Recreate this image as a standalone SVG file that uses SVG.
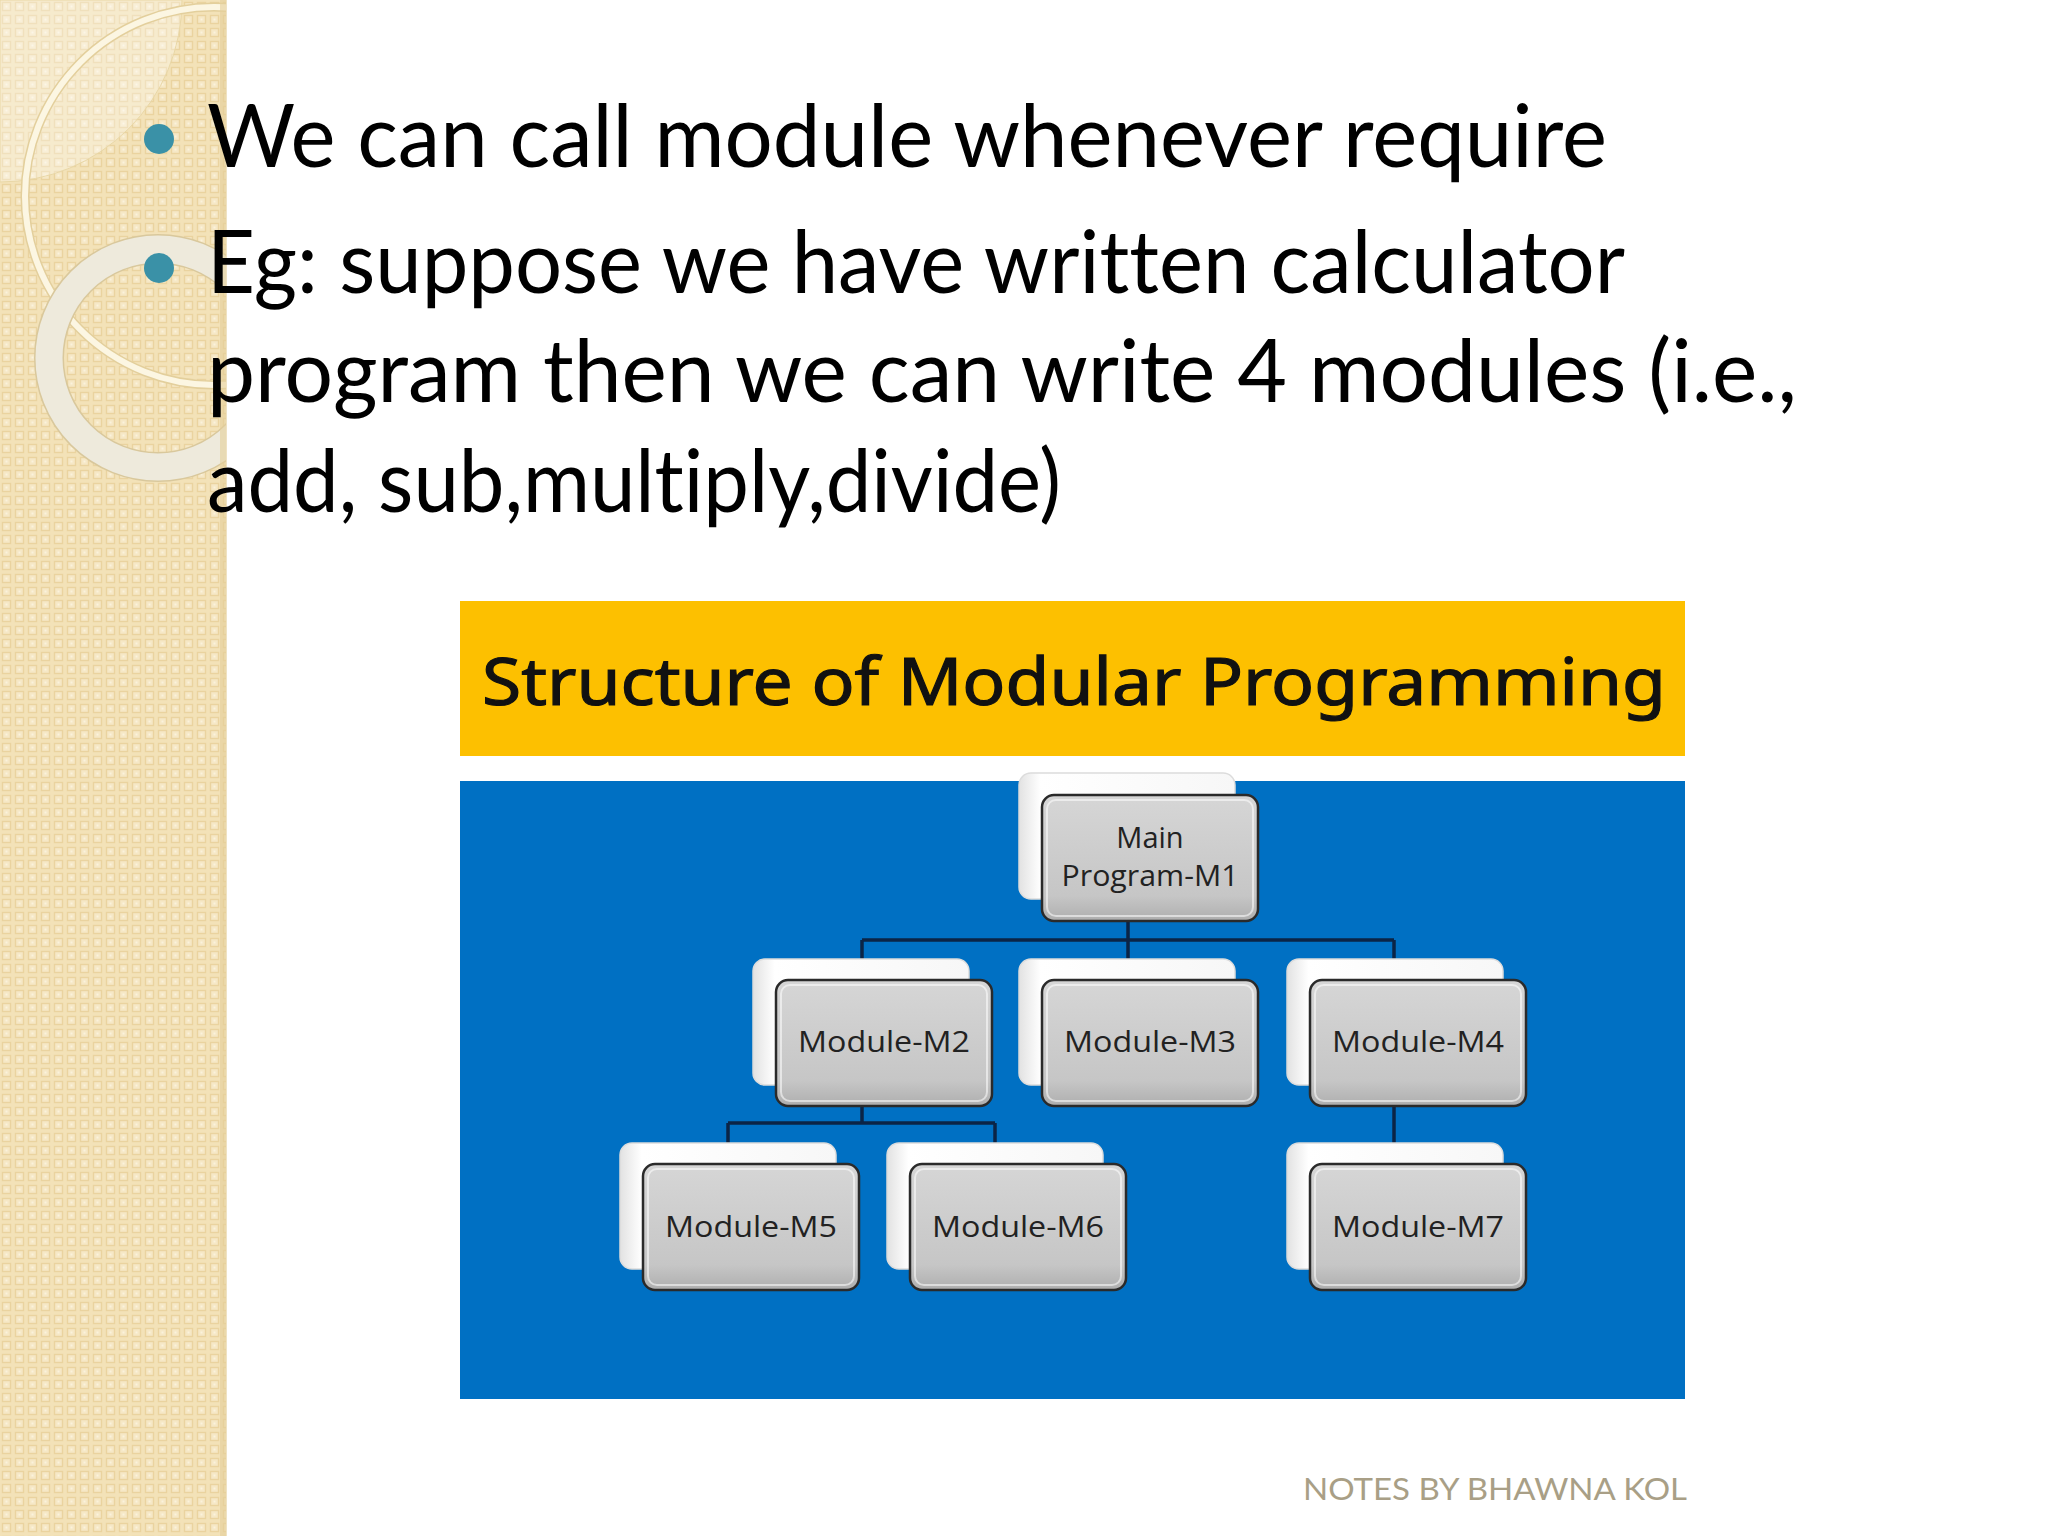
<svg xmlns="http://www.w3.org/2000/svg" width="2048" height="1536" viewBox="0 0 2048 1536">
<defs>
  <pattern id="chk" width="13" height="13" patternUnits="userSpaceOnUse">
    <rect width="13" height="13" fill="#f3e2b8"/>
    <rect x="2.5" y="2.5" width="8" height="8" fill="#f6e8c6" stroke="#ead39f" stroke-width="1.4"/>
    <rect x="5.5" y="5.5" width="2" height="2" fill="#fbf2dc"/>
  </pattern>
  <linearGradient id="gfront" x1="0" y1="0" x2="0" y2="1">
    <stop offset="0" stop-color="#d6d6d6"/>
    <stop offset="0.8" stop-color="#c6c6c6"/>
    <stop offset="1" stop-color="#aeaeae"/>
  </linearGradient>
  <linearGradient id="gback" x1="0" y1="0" x2="1" y2="0">
    <stop offset="0" stop-color="#e2e2e2"/>
    <stop offset="0.1" stop-color="#ffffff"/>
    <stop offset="1" stop-color="#f7f7f7"/>
  </linearGradient>
  <clipPath id="stripeClip"><rect x="0" y="0" width="226" height="1536"/></clipPath>
</defs>
<style>
  text { font-variant-ligatures: none; }
  .body { font-family: Lato, "Open Sans", sans-serif; font-size: 88px; fill: #000; }
  .bullet { fill: #3a91a7; }
  .back { fill: url(#gback); stroke: #dcdcdc; stroke-width: 1.5; }
  .front { fill: url(#gfront); stroke: #2a2a2a; stroke-width: 2.5; }
  .hl { fill: none; stroke: #ffffff; stroke-opacity: 0.55; stroke-width: 2; }
  .lbl { font-family: "Open Sans", "Noto Sans", sans-serif; font-size: 29px; fill: #222; text-anchor: middle; }
  .conn { fill: none; stroke: #0b2446; stroke-width: 3.5; }
</style>

<!-- page background -->
<rect x="0" y="0" width="2048" height="1536" fill="#ffffff"/>

<!-- decorative stripe -->
<g id="stripe">
  <rect x="0" y="0" width="226" height="1536" fill="url(#chk)"/>
  <g clip-path="url(#stripeClip)">
    <path d="M0 0 L182 0 A182 182 0 0 1 0 182 Z" fill="#ffffff" fill-opacity="0.3" stroke="#e9d7a6" stroke-width="1"/>
    <circle cx="214" cy="196" r="189" fill="none" stroke="#e3cf9c" stroke-width="9"/>
    <circle cx="214" cy="196" r="189" fill="none" stroke="#fcf6e2" stroke-width="6"/>
    <circle cx="158" cy="358" r="109" fill="none" stroke="#d9c89c" stroke-width="30"/>
    <circle cx="158" cy="358" r="109" fill="none" stroke="#eeeadc" stroke-width="27"/>
  </g>
  <rect x="220" y="0" width="7" height="1536" fill="#e4cf9a" opacity="0.6"/>
</g>

<!-- bullet text -->
<g id="text">
  <circle class="bullet" cx="159" cy="139" r="15"/>
  <circle class="bullet" cx="159" cy="268" r="15"/>
  <text class="body" x="207" y="167" textLength="1400" lengthAdjust="spacingAndGlyphs">We can call module whenever require</text>
  <text class="body" x="207" y="293" textLength="1418" lengthAdjust="spacingAndGlyphs">Eg: suppose we have written calculator</text>
  <text class="body" x="207" y="402" textLength="1590" lengthAdjust="spacingAndGlyphs">program then we can write 4 modules (i.e.,</text>
  <text class="body" x="207" y="512" textLength="854" lengthAdjust="spacingAndGlyphs">add, sub,multiply,divide)</text>
</g>

<!-- diagram panels -->
<g id="title">
  <rect x="460" y="601" width="1225" height="155" fill="#fdc000"/>
  <text x="482" y="705" font-family="'Noto Sans', 'Open Sans', sans-serif" font-size="66" fill="#111" stroke="#111" stroke-width="1.2" textLength="1184" lengthAdjust="spacingAndGlyphs">Structure of Modular Programming</text>
</g>
<rect id="panel" x="460" y="781" width="1225" height="618" fill="#0070c3"/>

<g id="connectors">
  <path class="conn" d="M1128 920 V959 M862 940 H1394 M862 940 V959 M1394 940 V959"/>
  <path class="conn" d="M862 1105 V1123 M728 1123 H995 M728 1123 V1143 M995 1123 V1143"/>
  <path class="conn" d="M1394 1106 V1143"/>
</g>

<g id="m1">
  <rect class="back" x="1019" y="773" width="216" height="126" rx="12"/>
  <rect class="front" x="1042" y="795" width="216" height="126" rx="12"/>
  <rect class="hl" x="1047" y="800" width="206" height="116" rx="9"/>
  <text class="lbl" x="1150" y="848">Main</text>
  <text class="lbl" x="1150" y="886" textLength="177" lengthAdjust="spacingAndGlyphs">Program-M1</text>
</g>
<g id="m2">
  <rect class="back" x="753" y="959" width="216" height="126" rx="12"/>
  <rect class="front" x="776" y="980" width="216" height="126" rx="12"/>
  <rect class="hl" x="781" y="985" width="206" height="116" rx="9"/>
  <text class="lbl" x="884" y="1052" textLength="172" lengthAdjust="spacingAndGlyphs">Module-M2</text>
</g>
<g id="m3">
  <rect class="back" x="1019" y="959" width="216" height="126" rx="12"/>
  <rect class="front" x="1042" y="980" width="216" height="126" rx="12"/>
  <rect class="hl" x="1047" y="985" width="206" height="116" rx="9"/>
  <text class="lbl" x="1150" y="1052" textLength="172" lengthAdjust="spacingAndGlyphs">Module-M3</text>
</g>
<g id="m4">
  <rect class="back" x="1287" y="959" width="216" height="126" rx="12"/>
  <rect class="front" x="1310" y="980" width="216" height="126" rx="12"/>
  <rect class="hl" x="1315" y="985" width="206" height="116" rx="9"/>
  <text class="lbl" x="1418" y="1052" textLength="172" lengthAdjust="spacingAndGlyphs">Module-M4</text>
</g>
<g id="m5">
  <rect class="back" x="620" y="1143" width="216" height="126" rx="12"/>
  <rect class="front" x="643" y="1164" width="216" height="126" rx="12"/>
  <rect class="hl" x="648" y="1169" width="206" height="116" rx="9"/>
  <text class="lbl" x="751" y="1237" textLength="172" lengthAdjust="spacingAndGlyphs">Module-M5</text>
</g>
<g id="m6">
  <rect class="back" x="887" y="1143" width="216" height="126" rx="12"/>
  <rect class="front" x="910" y="1164" width="216" height="126" rx="12"/>
  <rect class="hl" x="915" y="1169" width="206" height="116" rx="9"/>
  <text class="lbl" x="1018" y="1237" textLength="172" lengthAdjust="spacingAndGlyphs">Module-M6</text>
</g>
<g id="m7">
  <rect class="back" x="1287" y="1143" width="216" height="126" rx="12"/>
  <rect class="front" x="1310" y="1164" width="216" height="126" rx="12"/>
  <rect class="hl" x="1315" y="1169" width="206" height="116" rx="9"/>
  <text class="lbl" x="1418" y="1237" textLength="172" lengthAdjust="spacingAndGlyphs">Module-M7</text>
</g>

<text id="footer" x="1303" y="1500" font-family="Lato, 'Open Sans', sans-serif" font-size="31" fill="#a99f86" textLength="384" lengthAdjust="spacingAndGlyphs">NOTES BY BHAWNA KOL</text>
</svg>
